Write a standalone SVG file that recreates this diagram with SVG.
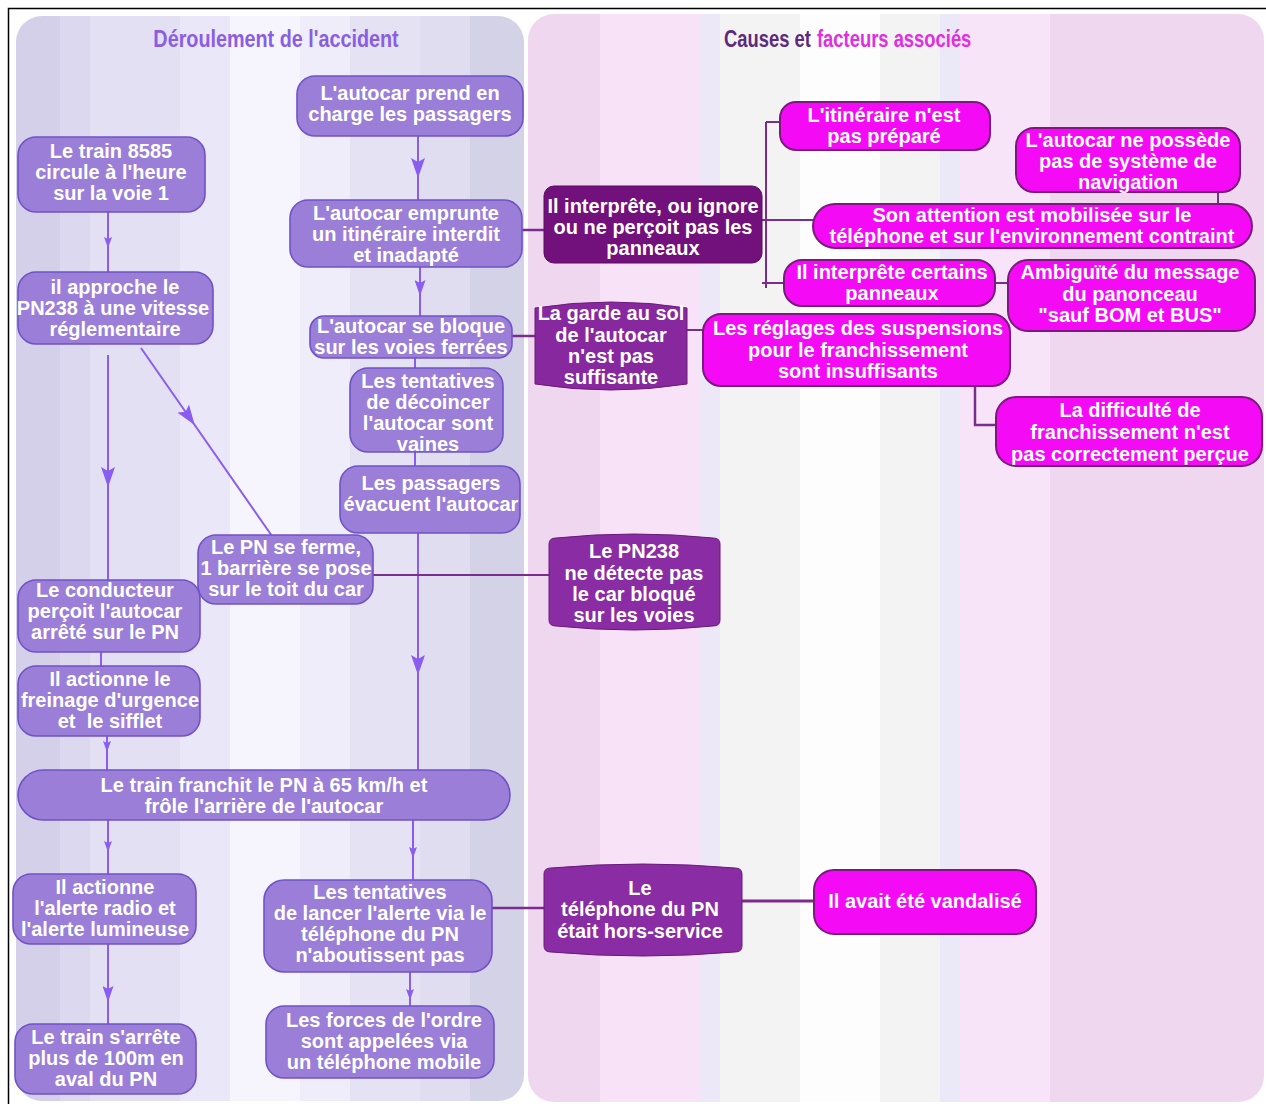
<svg xmlns="http://www.w3.org/2000/svg" width="1266" height="1104" viewBox="0 0 1266 1104">
<defs>
<linearGradient id="gl" gradientUnits="userSpaceOnUse" x1="16" y1="0" x2="524" y2="0">
<stop offset="0" stop-color="#d4d0ea"/><stop offset="0.087" stop-color="#d4d0ea"/>
<stop offset="0.087" stop-color="#dcd8ef"/><stop offset="0.146" stop-color="#dcd8ef"/>
<stop offset="0.146" stop-color="#e3e0f4"/><stop offset="0.323" stop-color="#e3e0f4"/>
<stop offset="0.323" stop-color="#eae7f8"/><stop offset="0.421" stop-color="#eae7f8"/>
<stop offset="0.421" stop-color="#f6f5fd"/><stop offset="0.559" stop-color="#f6f5fd"/>
<stop offset="0.559" stop-color="#efedfa"/><stop offset="0.657" stop-color="#efedfa"/>
<stop offset="0.657" stop-color="#e5e3f3"/><stop offset="0.795" stop-color="#e5e3f3"/>
<stop offset="0.795" stop-color="#dfddef"/><stop offset="0.894" stop-color="#dfddef"/>
<stop offset="0.894" stop-color="#d4d2e6"/><stop offset="1" stop-color="#d4d2e6"/>
</linearGradient>
<linearGradient id="gr" gradientUnits="userSpaceOnUse" x1="528" y1="0" x2="1266" y2="0">
<stop offset="0" stop-color="#efd7f0"/><stop offset="0.098" stop-color="#efd7f0"/>
<stop offset="0.098" stop-color="#f8e2f8"/><stop offset="0.233" stop-color="#f8e2f8"/>
<stop offset="0.233" stop-color="#ece8f8"/><stop offset="0.260" stop-color="#ece8f8"/>
<stop offset="0.260" stop-color="#f3f3f3"/><stop offset="0.369" stop-color="#f3f3f3"/>
<stop offset="0.369" stop-color="#fdfdfd"/><stop offset="0.477" stop-color="#fdfdfd"/>
<stop offset="0.477" stop-color="#f3f3f3"/><stop offset="0.558" stop-color="#f3f3f3"/>
<stop offset="0.558" stop-color="#ebe8f8"/><stop offset="0.585" stop-color="#ebe8f8"/>
<stop offset="0.585" stop-color="#f8e4f8"/><stop offset="0.707" stop-color="#f8e4f8"/>
<stop offset="0.707" stop-color="#efd8ef"/><stop offset="1" stop-color="#efd8ef"/>
</linearGradient>
<marker id="ab" markerUnits="userSpaceOnUse" viewBox="0 0 20 14" refX="20" refY="7" markerWidth="20" markerHeight="14" orient="auto"><path d="M0,0 L20,7 L0,14 L4,7 Z" fill="#8a5cf0"/></marker>
<marker id="am" markerUnits="userSpaceOnUse" viewBox="0 0 16 11" refX="16" refY="5.5" markerWidth="16" markerHeight="11" orient="auto"><path d="M0,0 L16,5.5 L0,11 L3,5.5 Z" fill="#8a5cf0"/></marker>
<marker id="as" markerUnits="userSpaceOnUse" viewBox="0 0 11 8" refX="11" refY="4" markerWidth="11" markerHeight="8" orient="auto"><path d="M0,0 L11,4 L0,8 L2,4 Z" fill="#8a5cf0"/></marker>
</defs>
<style>
text{font-family:"Liberation Sans",Arial,sans-serif;font-weight:bold;font-size:20px;fill:#fff;text-anchor:middle;white-space:pre}
.title{font-weight:bold;font-size:23px;stroke:none}
.ln{fill:#9a7ed8;stroke:#6f53c6;stroke-width:1.6}
.dk{fill:#72107c;stroke:#5a0a62;stroke-width:1}
.dm{fill:#88289e;stroke:#6a1a7a;stroke-width:1}
.mg{fill:#f50af5;stroke:#7a1a7c;stroke-width:2}
.la{fill:none;stroke:#8a5cf0;stroke-width:2}
.ra{fill:none;stroke:#7b2d8e;stroke-width:2.5}
</style>
<rect x="0" y="0" width="1266" height="1104" fill="#fff"/>
<rect x="8.5" y="8.5" width="1270" height="1110" fill="none" stroke="#000" stroke-width="1.5"/>
<rect x="16" y="16" width="508" height="1085" rx="26" fill="url(#gl)"/>
<rect x="528" y="14" width="736" height="1088" rx="26" fill="url(#gr)"/>
<text class="title" transform="translate(276,47) scale(0.86,1)" x="0" y="0" style="fill:#8a5ee4">Déroulement de l'accident</text>
<text class="title" transform="translate(724,47) scale(0.8,1)" x="0" y="0" style="fill:#5e2a7e;text-anchor:start">Causes et</text>
<text class="title" transform="translate(817,47) scale(0.8,1)" x="0" y="0" style="fill:#e02ee0;text-anchor:start">facteurs associés</text>

<g id="connectors">
<path class="la" d="M418,136 L418,178 L418,200" marker-mid="url(#ab)"/>
<path class="la" d="M108,212 L108,248 L108,272" marker-mid="url(#as)"/>
<path class="la" d="M420,267 L420,296 L420,316" marker-mid="url(#am)"/>
<path class="la" d="M108,355 L108,487 L108,580" marker-mid="url(#ab)"/>
<path class="la" d="M141,348 L194.7,425 L272,536" marker-mid="url(#ab)"/>
<path class="la" d="M415,358 L415,368"/>
<path class="la" d="M415,452 L415,466"/>
<path class="la" d="M418,533 L418,675 L418,770" marker-mid="url(#ab)"/>
<path class="la" d="M101,640 L101,666"/>
<path class="la" d="M107,720 L107,752 L107,770" marker-mid="url(#as)"/>
<path class="la" d="M108,820 L108,852 L108,874" marker-mid="url(#as)"/>
<path class="la" d="M413,820 L413,858 L413,880" marker-mid="url(#as)"/>
<path class="la" d="M108,944 L108,1002 L108,1024" marker-mid="url(#am)"/>
<path class="la" d="M410,972 L410,1000 L410,1006" marker-mid="url(#as)"/>
<path class="ra" d="M522,230 H544"/>
<path class="ra" d="M512,336 H535"/>
<path class="ra" d="M373,575 H549" style="stroke-width:2"/>
<path class="ra" d="M492,908 H544"/>
<path class="ra" d="M762,220 H813" style="stroke-width:2"/>
<path class="ra" d="M766,122 V288" style="stroke-width:2"/>
<path class="ra" d="M766,122 H780" style="stroke-width:2"/>
<path class="ra" d="M762,283 H784" style="stroke-width:2"/>
<path class="ra" d="M995,283 H1008" style="stroke-width:2"/>
<path class="ra" d="M1218,192 V206" style="stroke-width:2"/>
<path class="ra" d="M687,330 H703" style="stroke-width:2"/>
<path class="ra" d="M975,386 V425 H996"/>
<path class="ra" d="M742,901 H814" style="stroke-width:3"/>
</g>

<g id="n1"><rect class="ln" x="297" y="76" width="226" height="60" rx="18"/><text x="410" y="100">L'autocar prend en</text><text x="410" y="121">charge les passagers</text></g>
<g id="n2"><rect class="ln" x="18" y="137" width="187" height="75" rx="18"/><text x="111" y="158">Le train 8585</text><text x="111" y="179">circule à l'heure</text><text x="111" y="200">sur la voie 1</text></g>
<g id="n3"><rect class="ln" x="290" y="200" width="232" height="67" rx="18"/><text x="406" y="220">L'autocar emprunte</text><text x="406" y="241">un itinéraire interdit</text><text x="406" y="262">et inadapté</text></g>
<g id="n4"><rect class="ln" x="18" y="272" width="195" height="72" rx="18"/><text x="115" y="294">il approche le</text><text x="113" y="315">PN238 à une vitesse</text><text x="115" y="336">réglementaire</text></g>
<g id="n5"><rect class="ln" x="310" y="316" width="202" height="42" rx="14"/><text x="411" y="333">L'autocar se bloque</text><text x="411" y="354">sur les voies ferrées</text></g>
<g id="n6"><rect class="ln" x="350" y="368" width="153" height="84" rx="18"/><text x="428" y="388">Les tentatives</text><text x="428" y="409">de décoincer</text><text x="428" y="430">l'autocar sont</text><text x="428" y="451">vaines</text></g>
<g id="n7"><rect class="ln" x="340" y="466" width="180" height="67" rx="18"/><text x="431" y="490">Les passagers</text><text x="431" y="511">évacuent l'autocar</text></g>
<g id="n8"><rect class="ln" x="198" y="535" width="175" height="69" rx="18"/><text x="286" y="554">Le PN se ferme,</text><text x="286" y="575">1 barrière se pose</text><text x="286" y="596">sur le toit du car</text></g>
<g id="n9"><rect class="ln" x="18" y="580" width="182" height="72" rx="18"/><text x="105" y="597">Le conducteur</text><text x="105" y="618">perçoit l'autocar</text><text x="105" y="639">arrêté sur le PN</text></g>
<g id="n10"><rect class="ln" x="18" y="666" width="182" height="70" rx="18"/><text x="110" y="686">Il actionne le</text><text x="110" y="707">freinage d'urgence</text><text x="110" y="728">et  le sifflet</text></g>
<g id="n11"><rect class="ln" x="18" y="770" width="492" height="50" rx="25"/><text x="264" y="792">Le train franchit le PN à 65 km/h et</text><text x="264" y="813">frôle l'arrière de l'autocar</text></g>
<g id="n12"><rect class="ln" x="13" y="874" width="183" height="70" rx="18"/><text x="105" y="894">Il actionne</text><text x="105" y="915">l'alerte radio et</text><text x="105" y="936">l'alerte lumineuse</text></g>
<g id="n13"><rect class="ln" x="264" y="880" width="228" height="92" rx="20"/><text x="380" y="899">Les tentatives</text><text x="380" y="920">de lancer l'alerte via le</text><text x="380" y="941">téléphone du PN</text><text x="380" y="962">n'aboutissent pas</text></g>
<g id="n14"><rect class="ln" x="15" y="1024" width="181" height="70" rx="18"/><text x="106" y="1044">Le train s'arrête</text><text x="106" y="1065">plus de 100m en</text><text x="106" y="1086">aval du PN</text></g>
<g id="n15"><rect class="ln" x="266" y="1006" width="228" height="72" rx="18"/><text x="384" y="1027">Les forces de l'ordre</text><text x="384" y="1048">sont appelées via</text><text x="384" y="1069">un téléphone mobile</text></g>

<g id="cA"><rect class="dk" x="544" y="186" width="218" height="77" rx="10"/><text x="653" y="213">Il interprête, ou ignore</text><text x="653" y="234">ou ne perçoit pas les</text><text x="653" y="255">panneaux</text></g>
<g id="cB"><path class="dm" d="M535,308 Q611,296 687,308 L687,384 Q611,396 535,384 Z"/><text x="611" y="320">La garde au sol</text><text x="611" y="342">de l'autocar</text><text x="611" y="363">n'est pas</text><text x="611" y="384">suffisante</text></g>
<g id="cC"><path class="dm" d="M549,544 Q549,538 556,538 Q634,530 713,538 Q720,538 720,544 L720,620 Q720,626 713,626 Q634,634 556,626 Q549,626 549,620 Z" style="fill:#8a2ca3"/><text x="634" y="558">Le PN238</text><text x="634" y="580">ne détecte pas</text><text x="634" y="601">le car bloqué</text><text x="634" y="622">sur les voies</text></g>
<g id="cD"><path class="dm" d="M544,874 Q544,868 551,868 Q643,860 735,868 Q742,868 742,874 L742,946 Q742,952 735,952 Q643,960 551,952 Q544,952 544,946 Z" style="fill:#8a2ca3"/><text x="640" y="895">Le</text><text x="640" y="916">téléphone du PN</text><text x="640" y="938">était hors-service</text></g>

<g id="fE"><rect class="mg" x="780" y="102" width="210" height="48" rx="16"/><text x="884" y="122">L'itinéraire n'est</text><text x="884" y="143">pas préparé</text></g>
<g id="fF"><rect class="mg" x="1016" y="128" width="224" height="64" rx="18"/><text x="1128" y="147">L'autocar ne possède</text><text x="1128" y="168">pas de système de</text><text x="1128" y="189">navigation</text></g>
<g id="fG"><rect class="mg" x="813" y="204" width="439" height="44" rx="22"/><text x="1032" y="222">Son attention est mobilisée sur le</text><text x="1032" y="243">téléphone et sur l'environnement contraint</text></g>
<g id="fH"><rect class="mg" x="784" y="260" width="211" height="46" rx="18"/><text x="892" y="279">Il interprête certains</text><text x="892" y="300">panneaux</text></g>
<g id="fI"><rect class="mg" x="1008" y="260" width="247" height="71" rx="20"/><text x="1130" y="279">Ambiguïté du message</text><text x="1130" y="301">du panonceau</text><text x="1130" y="322">"sauf BOM et BUS"</text></g>
<g id="fJ"><rect class="mg" x="703" y="314" width="307" height="72" rx="18"/><text x="858" y="335">Les réglages des suspensions</text><text x="858" y="357">pour le franchissement</text><text x="858" y="378">sont insuffisants</text></g>
<g id="fK"><rect class="mg" x="996" y="397" width="266" height="69" rx="20"/><text x="1130" y="417">La difficulté de</text><text x="1130" y="439">franchissement n'est</text><text x="1130" y="461">pas correctement perçue</text></g>
<g id="fL"><rect class="mg" x="814" y="870" width="222" height="64" rx="20"/><text x="925" y="908">Il avait été vandalisé</text></g>
</svg>
